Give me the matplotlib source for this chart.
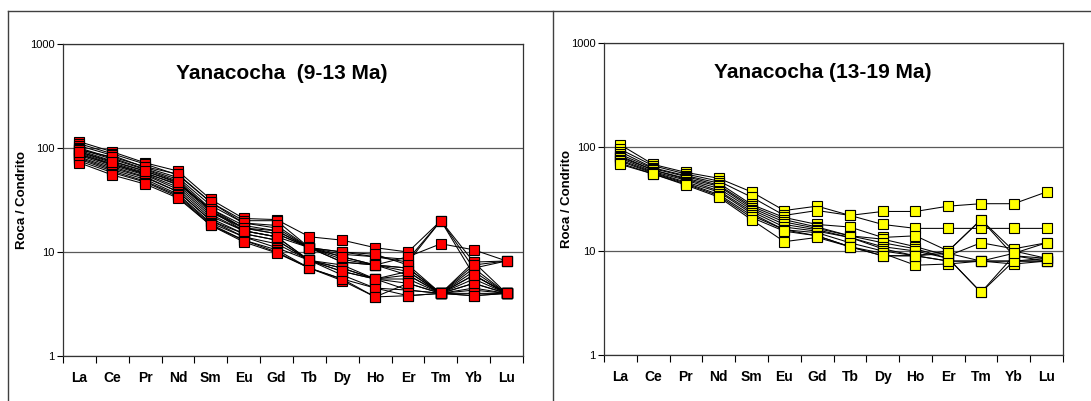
"""
Chondrite-normalised REE spider diagrams, Yanacocha (9-13 Ma and 13-19 Ma).
Writes out.png
"""
import matplotlib
matplotlib.use("Agg")
import matplotlib.pyplot as plt
from matplotlib.lines import Line2D

plt.rcParams["font.family"] = ["Liberation Sans", "DejaVu Sans"]

REE = ["La", "Ce", "Pr", "Nd", "Sm", "Eu", "Gd", "Tb", "Dy", "Ho", "Er", "Tm", "Yb", "Lu"]

# Roca / Condrito, 9-13 Ma samples (one row per sample)
young = [
    [115, 92, 72, 60, 32, 21, 20.5, 14, 13, 11, 10, 20, 8, 4],
    [110, 88, 70, 55, 30, 20, 20, 11, 10, 9, 8, 20, 7, 4],
    [105, 85, 65, 52, 28, 19, 17, 11, 9.5, 9, 8.5, 20, 6, 4],
    [100, 80, 63, 50, 26, 18, 16, 11, 9, 7.5, 9, 12, 10.5, 8.2],
    [98, 78, 62, 48, 25, 17, 15, 11, 8.5, 7.5, 7, 4, 8, 8.2],
    [95, 75, 60, 46, 24, 17, 15, 11, 8, 7.5, 7, 4, 7, 8.2],
    [92, 72, 58, 44, 23, 16, 14, 11, 8, 7.5, 6, 4, 6, 4],
    [90, 70, 56, 42, 22, 16, 14, 8.3, 7.5, 5.5, 6, 4, 5, 4],
    [88, 68, 55, 40, 21, 15, 13, 8.3, 7, 5.5, 5, 4, 4.3, 4],
    [85, 66, 53, 38, 20, 15, 13, 8.3, 7, 5.5, 5.5, 4, 5.5, 4],
    [82, 64, 52, 38, 20, 14, 12, 8.3, 6.5, 5.5, 4.3, 4, 4.5, 4],
    [80, 62, 50, 36, 19, 14, 11, 8.3, 6, 4.5, 4.3, 4, 3.8, 4],
    [78, 60, 48, 35, 18.5, 13, 10.5, 7, 5.5, 4.5, 3.8, 4, 4, 4],
    [75, 58, 47, 34, 18, 13, 10, 7, 5.3, 3.7, 3.8, 4, 3.8, 4],
    [72, 55, 45, 33, 18, 12.5, 9.8, 7, 5.5, 3.7, 5, 4, 6.5, 4],
    [96, 82, 66, 56, 30, 19, 18, 11, 10, 9.5, 7.5, 4, 7.5, 8.2],
    [86, 70, 57, 45, 26, 17, 16, 11, 9, 7.5, 6.5, 4, 5, 4],
    [92, 74, 60, 47, 25, 16, 14, 8.3, 6.5, 5.5, 6.5, 4, 6, 4],
]

# Roca / Condrito, 13-19 Ma samples
old = [
    [105, 68, 57, 50, 37, 24.5, 27, 22, 24, 24, 27, 28.5, 28.5, 37],
    [95, 66, 55, 47, 33, 22, 24.5, 22, 18, 16.5, 16.5, 16.5, 16.5, 16.5],
    [90, 63, 53, 45, 28, 21, 18, 17, 13.5, 14, 10, 20, 10, 8.5],
    [85, 62, 52, 43, 27, 20, 17, 14, 13, 11, 9, 12, 10.5, 12],
    [82, 60, 50, 42, 26, 19, 16.5, 14, 12, 10.5, 8.5, 4, 9, 8.5],
    [80, 60, 49, 40, 25, 18, 16, 13.5, 11, 10, 8.5, 4, 8, 8],
    [78, 58, 48, 38, 24, 17, 15.5, 13.5, 10.5, 9, 10, 20, 9, 8],
    [75, 57, 46, 37, 23, 16, 15, 12, 10, 9, 8, 8, 8, 8],
    [73, 56, 45, 35, 22, 16, 14, 11, 9.5, 7.3, 7.5, 8, 7.5, 8],
    [70, 55, 44, 34, 21, 15.5, 14, 11, 9, 9, 8, 8, 8, 8.5],
    [68, 55, 43, 33, 20, 12.3, 13.5, 11, 9, 9, 9.5, 8, 9.5, 12],
]

W, H = 1091, 401
fig = plt.figure(figsize=(W / 100, H / 100), dpi=100)


def px_axes(x0, y0, x1, y1):
    return fig.add_axes([x0 / W, 1 - y1 / H, (x1 - x0) / W, (y1 - y0) / H])


def spider(ax, rows, colour, title, ylab_x):
    x = list(range(len(REE)))
    for r in rows:
        ax.plot(x, r, color="black", lw=0.75, marker="s", ms=7,
                mfc=colour, mec="black", mew=0.8, zorder=3)
    ax.set_yscale("log")
    ax.set_ylim(1, 1000)
    ax.set_xlim(-0.5, len(REE) - 0.5)
    ax.set_yticks([1, 10, 100, 1000])
    ax.set_yticklabels(["1", "10", "100", "1000"])
    ax.yaxis.set_minor_locator(matplotlib.ticker.NullLocator())
    ax.tick_params(axis="y", which="major", length=4, width=0.8, labelsize=8, pad=2)
    ax.set_xticks(x)
    ax.set_xticklabels(REE, fontweight="bold", fontsize=10)
    ax.set_xticks([i - 0.5 for i in range(len(REE) + 1)], minor=True)
    ax.tick_params(axis="x", which="major", length=0, pad=11)
    ax.tick_params(axis="x", which="minor", length=5, width=0.8)
    ax.yaxis.grid(True, which="major", color="0.35", lw=0.9)
    ax.set_axisbelow(True)
    for s in ax.spines.values():
        s.set_color("0.2")
        s.set_linewidth(0.9)
    ax.set_ylabel("Roca / Condrito", fontweight="bold", fontsize=9.5)
    ax.yaxis.set_label_coords(ylab_x, 0.5)
    ax.text(0.476, 0.907, title, transform=ax.transAxes, ha="center", va="center",
            fontsize=15, fontweight="bold")


ax1 = px_axes(63, 44, 523, 356)
spider(ax1, young, "#ff0000", "Yanacocha  (9-13 Ma)", -0.077)
ax2 = px_axes(604, 43, 1063, 355)
spider(ax2, old, "#ffff00", "Yanacocha (13-19 Ma)", -0.067)

# panel frames
for xs, ys in [([8, 1091], [11, 11]), ([8, 8], [11, 401]), ([553, 553], [11, 401])]:
    fig.add_artist(Line2D([v / W for v in xs], [1 - v / H for v in ys],
                          color="0.25", lw=1.0))

fig.savefig("out.png", dpi=100)
